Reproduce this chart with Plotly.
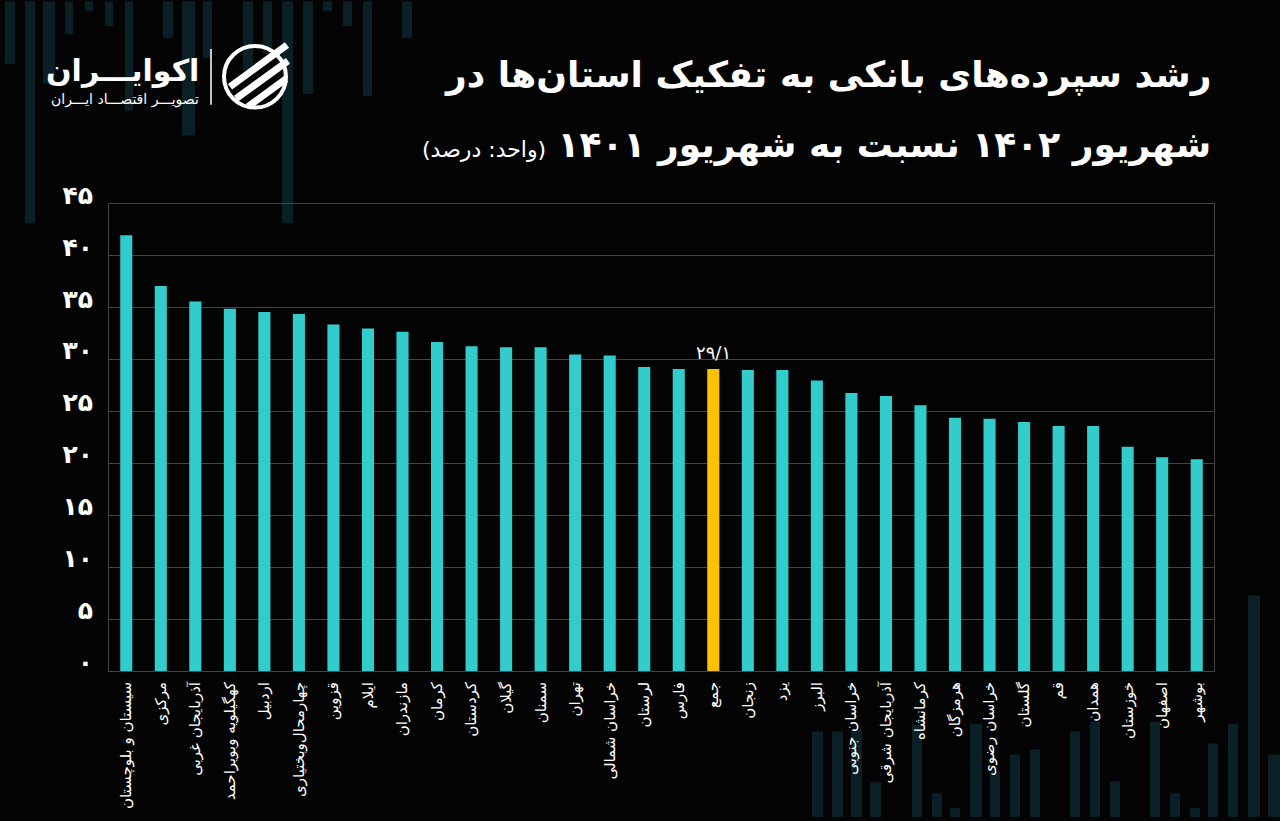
import plotly.graph_objects as go

# ---------------- data ----------------
provinces = [
    "سیستان و بلوچستان", "مرکزی", "آذربایجان غربی", "کهگیلویه وبویراحمد", "اردبیل",
    "چهارمحال‌وبختیاری", "قزوین", "ایلام", "مازندران", "کرمان", "کردستان", "گیلان",
    "سمنان", "تهران", "خراسان شمالی", "لرستان", "فارس", "جمع", "زنجان", "یزد",
    "البرز", "خراسان جنوبی", "آذربایجان شرقی", "کرمانشاه", "هرمزگان", "خراسان رضوی",
    "گلستان", "قم", "همدان", "خوزستان", "اصفهان", "بوشهر",
]
growth = [
    42.0, 37.1, 35.6, 34.9, 34.6, 34.4, 33.4, 33.0, 32.7, 31.7, 31.3, 31.2,
    31.2, 30.5, 30.4, 29.3, 29.1, 29.1, 29.0, 29.0, 28.0, 26.8, 26.5, 25.6,
    24.4, 24.3, 24.0, 23.6, 23.6, 21.6, 20.6, 20.4,
]
highlight = "جمع"
y_ticks = [0, 5, 10, 15, 20, 25, 30, 35, 40, 45]
y_tick_labels = ["۰", "۵", "۱۰", "۱۵", "۲۰", "۲۵", "۳۰", "۳۵", "۴۰", "۴۵"]

title_line1 = "رشد سپرده‌های بانکی به تفکیک استان‌ها در"
title_line2 = "شهریور ۱۴۰۲ نسبت به شهریور ۱۴۰۱"
unit_text = "(واحد: درصد)"
logo_name = "اکوایـــران"
logo_tag = "تصویـــر اقتصـــاد ایـــران"

# ---------------- styling ----------------
BG = "#040404"
TEAL = "#33CCCC"
GOLD = "#FFC000"
GRID = "#444444"
STRIPE = "#0b1f26"
FA = "DejaVu Sans"

W, H = 1280, 821
L, R, T, B = 109, 1214, 204, 674


def px(x):
    return (x - L) / (R - L)


def py(y):
    return (B - y) / (B - T)


def to_fa(v):
    s = f"{v:.1f}"
    digits = "۰۱۲۳۴۵۶۷۸۹"
    return "".join(digits[int(c)] if c.isdigit() else "/" for c in s)


colors = [GOLD if p == highlight else TEAL for p in provinces]
hi_idx = provinces.index(highlight)

fig = go.Figure(
    go.Bar(
        x=provinces,
        y=growth,
        marker=dict(color=colors, line=dict(width=0)),
        hoverinfo="x+y",
    )
)

shapes = []
# decorative stripes (top-left)
top_stripes = [
    (5, 15, 63), (25, 35, 223), (43, 55, 83), (65, 73, 33), (85, 93, 10),
    (105, 113, 25), (125, 133, 110), (163, 173, 37), (182, 195, 135),
    (203, 212, 57), (243, 253, 70), (263, 272, 53), (282, 293, 223),
    (303, 313, 93), (323, 332, 10), (343, 352, 25), (363, 372, 95), (402, 412, 37),
]
for x0, x1, yb in top_stripes:
    shapes.append(dict(type="rect", xref="paper", yref="paper", layer="below",
                       x0=px(x0), x1=px(x1), y0=py(yb), y1=py(0),
                       fillcolor=STRIPE, line=dict(width=0)))
# decorative stripes (bottom-right)
bottom_stripes = [
    (812, 823, 735), (832, 843, 735), (851, 862, 733), (870, 881, 786),
    (912, 922, 728), (932, 942, 797), (950, 960, 812), (970, 982, 727),
    (990, 1000, 775), (1010, 1020, 758), (1030, 1040, 753), (1070, 1080, 735),
    (1090, 1100, 725), (1110, 1120, 785), (1150, 1160, 725), (1170, 1180, 797),
    (1190, 1200, 812), (1208, 1218, 747), (1228, 1238, 727), (1248, 1260, 598),
    (1268, 1280, 758),
]
for x0, x1, yt in bottom_stripes:
    shapes.append(dict(type="rect", xref="paper", yref="paper", layer="below",
                       x0=px(x0), x1=px(x1), y0=py(821), y1=py(yt),
                       fillcolor=STRIPE, line=dict(width=0)))

# logo: separator and icon
shapes.append(dict(type="line", xref="paper", yref="paper",
                   x0=px(211), x1=px(211), y0=py(48), y1=py(104),
                   line=dict(color="white", width=1.5)))
shapes.append(dict(type="circle", xref="paper", yref="paper",
                   x0=px(224), x1=px(286), y0=py(107), y1=py(45),
                   line=dict(color="white", width=4)))
for (x0, y0, x1, y1) in [(230, 86, 287, 44), (236, 98, 288, 60), (248, 106, 286, 78)]:
    shapes.append(dict(type="line", xref="paper", yref="paper",
                       x0=px(x0), x1=px(x1), y0=py(y0), y1=py(y1),
                       line=dict(color="white", width=7)))

annotations = [
    dict(text=to_fa(growth[hi_idx]), x=provinces[hi_idx], y=growth[hi_idx],
         xref="x", yref="y", xanchor="center", yanchor="bottom", yshift=4,
         showarrow=False, font=dict(family=FA, size=18, color="white")),
    dict(text=title_line1, x=px(1213), y=py(74), xref="paper", yref="paper",
         xanchor="right", yanchor="middle", showarrow=False,
         font=dict(family=FA, size=36, color="white", weight="bold")),
    dict(text="\u200f<b>" + title_line2 + "</b> <span style='font-size:22px'>" + unit_text + "</span>\u200f",
         x=px(1213), y=py(145), xref="paper", yref="paper",
         xanchor="right", yanchor="middle", showarrow=False,
         font=dict(family=FA, size=36, color="white")),
    dict(text=logo_name, x=px(201), y=py(70), xref="paper", yref="paper",
         xanchor="right", yanchor="middle", showarrow=False,
         font=dict(family=FA, size=30, color="white", weight="bold")),
    dict(text=logo_tag, x=px(201), y=py(99), xref="paper", yref="paper",
         xanchor="right", yanchor="middle", showarrow=False,
         font=dict(family=FA, size=14, color="white")),
]

fig.update_layout(
    width=W, height=H,
    margin=dict(l=L, r=W - R, t=T, b=H - B, pad=0),
    paper_bgcolor=BG, plot_bgcolor="rgba(0,0,0,0)",
    bargap=0.65,
    showlegend=False,
    shapes=shapes,
    annotations=annotations,
    font=dict(family=FA, color="white"),
)
fig.update_xaxes(
    type="category",
    tickangle=-90,
    tickfont=dict(family=FA, size=15, color="white"),
    showgrid=False,
    showline=True, mirror=True, linecolor=GRID, linewidth=1,
    ticks="", ticklabelstandoff=4,
)
fig.update_yaxes(
    range=[0, 45],
    tickvals=y_ticks, ticktext=y_tick_labels,
    tickfont=dict(family=FA, size=25, color="white", weight="bold"),
    showgrid=True, gridcolor=GRID, gridwidth=1,
    showline=True, mirror=True, linecolor=GRID, linewidth=1,
    zeroline=False,
    ticks="", ticklabelstandoff=10, ticklabelshift=-9,
)

fig.write_html(
    "out.html",
    config={"displayModeBar": False},
    post_script="document.body.style.margin='0';document.body.style.background='#040404';",
)
